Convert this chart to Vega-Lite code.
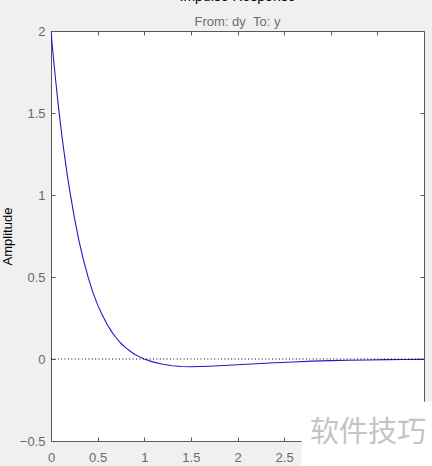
{
  "$schema": "https://vega.github.io/schema/vega-lite/v6.json",
  "width": 373,
  "height": 410,
  "autosize": "none",
  "padding": {"left": 51, "top": 31, "right": 8, "bottom": 25},
  "background": "#f0f0f0",
  "config": {
    "font": "Liberation Sans",
    "view": {"fill": "white", "stroke": "#5a5a5a", "strokeWidth": 1},
    "axis": {"grid": false, "domain": false, "tickColor": "#5a5a5a", "tickSize": -4, "labelColor": "#6a6a6a", "labelFontSize": 13, "labelFont": "Liberation Sans", "titleFont": "Liberation Sans", "titleFontWeight": "normal"}
  },
  "title": {
    "text": "Impulse Response",
    "subtitle": "From: dy\u00a0\u00a0To: y",
    "fontSize": 14,
    "fontWeight": "normal",
    "color": "black",
    "subtitleFontSize": 13,
    "subtitleColor": "#6e6e6e",
    "subtitlePadding": 12,
    "offset": -4,
    "anchor": "middle"
  },
  "datasets": {
    "curve": [
      {"t": 0, "h": 2.0}, {"t": 0.025, "h": 1.84}, {"t": 0.05, "h": 1.70}, {"t": 0.075, "h": 1.565},
      {"t": 0.1, "h": 1.44}, {"t": 0.125, "h": 1.325}, {"t": 0.15, "h": 1.22}, {"t": 0.175, "h": 1.12},
      {"t": 0.2, "h": 1.03}, {"t": 0.25, "h": 0.865}, {"t": 0.3, "h": 0.72}, {"t": 0.35, "h": 0.60},
      {"t": 0.4, "h": 0.495}, {"t": 0.45, "h": 0.405}, {"t": 0.5, "h": 0.33}, {"t": 0.55, "h": 0.268},
      {"t": 0.6, "h": 0.213}, {"t": 0.65, "h": 0.167}, {"t": 0.7, "h": 0.128}, {"t": 0.75, "h": 0.096},
      {"t": 0.8, "h": 0.069}, {"t": 0.85, "h": 0.047}, {"t": 0.9, "h": 0.028}, {"t": 0.95, "h": 0.013},
      {"t": 1.0, "h": 0.0}, {"t": 1.05, "h": -0.010}, {"t": 1.1, "h": -0.019}, {"t": 1.2, "h": -0.032},
      {"t": 1.3, "h": -0.041}, {"t": 1.4, "h": -0.046}, {"t": 1.5, "h": -0.047}, {"t": 1.6, "h": -0.046},
      {"t": 1.7, "h": -0.044}, {"t": 1.8, "h": -0.041}, {"t": 1.9, "h": -0.038}, {"t": 2.0, "h": -0.035},
      {"t": 2.2, "h": -0.029}, {"t": 2.4, "h": -0.023}, {"t": 2.6, "h": -0.018}, {"t": 2.8, "h": -0.013},
      {"t": 3.0, "h": -0.010}, {"t": 3.2, "h": -0.008}, {"t": 3.4, "h": -0.006}, {"t": 3.6, "h": -0.004},
      {"t": 3.8, "h": -0.003}, {"t": 4.0, "h": -0.002}
    ],
    "zero": [{"x0": 0, "x1": 4, "y": 0}],
    "mark": [{"x0": 2.689, "x1": 4.09, "y0": -0.26, "y1": -0.66, "xt": 3.4, "yt": -0.451, "label": "软件技巧"}]
  },
  "resolve": {"axis": {"x": "independent", "y": "independent"}},
  "layer": [
    {
      "data": {"name": "curve"},
      "mark": {"type": "line", "color": "#1c1cc8", "strokeWidth": 1.1, "clip": true},
      "encoding": {
        "x": {"field": "t", "type": "quantitative", "scale": {"domain": [0, 4], "nice": false, "zero": false},
              "axis": {"orient": "bottom", "values": [0, 0.5, 1, 1.5, 2, 2.5], "format": "~g", "labelPadding": 14, "labelFlush": false, "title": null}},
        "y": {"field": "h", "type": "quantitative", "scale": {"domain": [-0.5, 2], "nice": false, "zero": false},
              "axis": {"orient": "left", "values": [-0.5, 0, 0.5, 1, 1.5, 2], "format": "~g", "labelPadding": 10, "labelFlush": false, "title": "Amplitude", "titleFontSize": 13, "titleColor": "black", "titlePadding": 5}}
      }
    },
    {
      "data": {"name": "zero"},
      "mark": {"type": "rule", "color": "black", "strokeDash": [1, 2.4], "strokeWidth": 1},
      "encoding": {
        "x": {"field": "x0", "type": "quantitative", "axis": {"orient": "top", "values": [0, 0.5, 1, 1.5, 2, 2.5, 3, 3.5, 4], "labels": false, "title": null}},
        "x2": {"field": "x1"},
        "y": {"field": "y", "type": "quantitative", "axis": {"orient": "right", "values": [-0.5, 0, 0.5, 1, 1.5, 2], "labels": false, "title": null}}
      }
    },
    {
      "data": {"name": "mark"},
      "mark": {"type": "rect", "fill": "white", "stroke": null},
      "encoding": {
        "x": {"field": "x0", "type": "quantitative", "axis": null},
        "x2": {"field": "x1"},
        "y": {"field": "y0", "type": "quantitative", "axis": null},
        "y2": {"field": "y1"}
      }
    },
    {
      "data": {"name": "mark"},
      "mark": {"type": "text", "font": "Noto Sans CJK SC", "fontSize": 29, "color": "#c4c4c4", "align": "center", "baseline": "middle"},
      "encoding": {
        "x": {"field": "xt", "type": "quantitative", "axis": null},
        "y": {"field": "yt", "type": "quantitative", "axis": null},
        "text": {"field": "label"}
      }
    }
  ]
}
